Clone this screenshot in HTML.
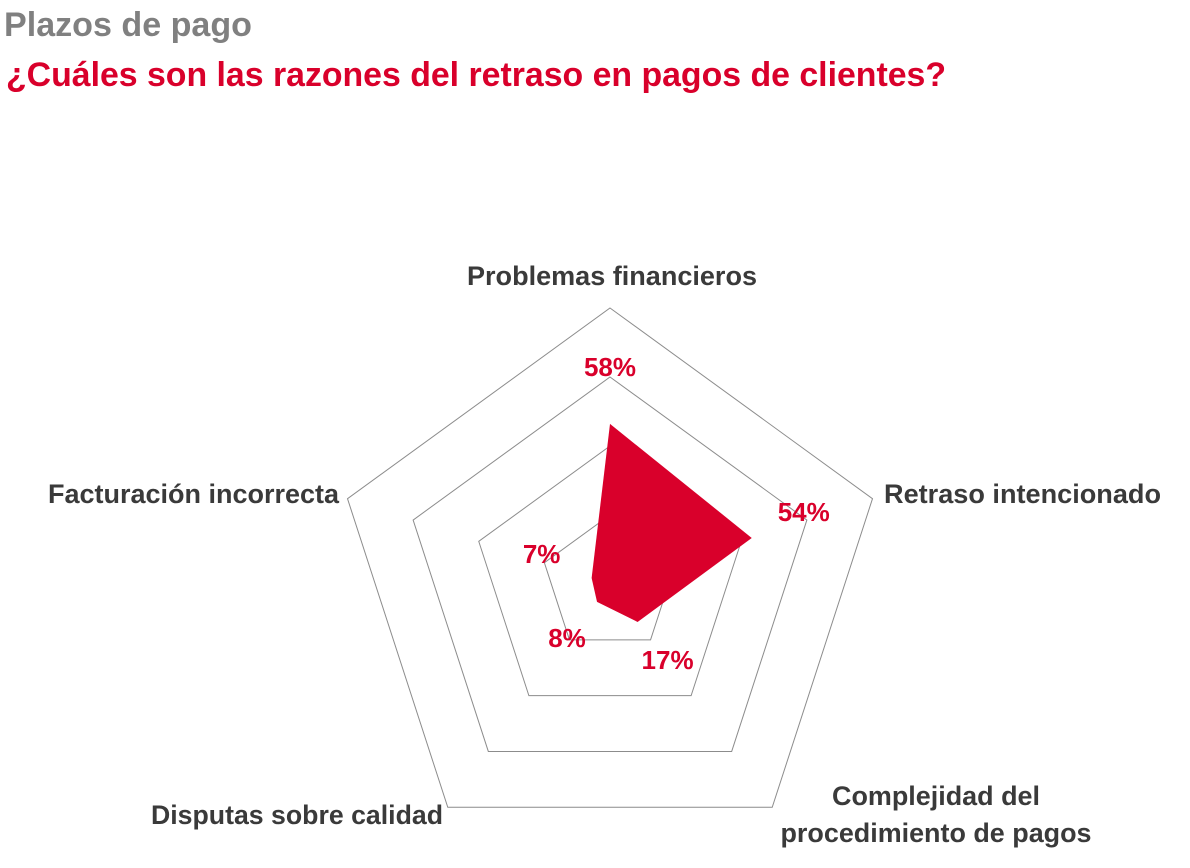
<!DOCTYPE html>
<html><head><meta charset="utf-8"><style>
html,body{margin:0;padding:0;background:#fff;}
svg{display:block;font-family:"Liberation Sans",sans-serif;font-weight:bold;}
</style></head><body>
<svg id="chart" width="1190" height="868" viewBox="0 0 1190 868">
<text x="4" y="36" font-size="34" fill="#808080" textLength="248" lengthAdjust="spacingAndGlyphs">Plazos de pago</text>
<text x="6" y="86" font-size="34" fill="#d9002b" textLength="940" lengthAdjust="spacingAndGlyphs">¿Cuáles son las razones del retraso en pagos de clientes?</text>
<g id="grid"></g>
<g id="series"></g>
<g id="labels">
<text x="612" y="285" font-size="27" fill="#3a3a3a" text-anchor="middle" textLength="290" lengthAdjust="spacingAndGlyphs">Problemas financieros</text>
<text x="884" y="503" font-size="27" fill="#3a3a3a" textLength="277" lengthAdjust="spacingAndGlyphs">Retraso intencionado</text>
<text x="48" y="503" font-size="27" fill="#3a3a3a" textLength="291" lengthAdjust="spacingAndGlyphs">Facturación incorrecta</text>
<text x="151" y="824" font-size="27" fill="#3a3a3a" textLength="292" lengthAdjust="spacingAndGlyphs">Disputas sobre calidad</text>
<text x="936" y="805" font-size="27" fill="#3a3a3a" text-anchor="middle" textLength="208" lengthAdjust="spacingAndGlyphs">Complejidad del</text>
<text x="936" y="842" font-size="27" fill="#3a3a3a" text-anchor="middle" textLength="311" lengthAdjust="spacingAndGlyphs">procedimiento de pagos</text>
</g>
</svg>
<script>
const categories = ["Problemas financieros","Retraso intencionado","Complejidad del procedimiento de pagos","Disputas sobre calidad","Facturación incorrecta"];
const values = [58,54,17,8,7];
const valueLabels = ["58%","54%","17%","8%","7%"];
const ringLevels = [25,50,75,100];
const NS="http://www.w3.org/2000/svg";
const cx=610, cy=584, R=276, maxV=100;
function pt(i,v){const a=i*2*Math.PI/5; const r=v/maxV*R; return [cx+r*Math.sin(a), cy-r*Math.cos(a)];}
const grid=document.getElementById('grid');
ringLevels.forEach(l=>{
  const p=document.createElementNS(NS,'polygon');
  p.setAttribute('points',categories.map((c,i)=>pt(i,l).join(',')).join(' '));
  p.setAttribute('fill','none');p.setAttribute('stroke','#8c8c8c');p.setAttribute('stroke-width','1');
  
  
  grid.appendChild(p);
});
const s=document.getElementById('series');
const poly=document.createElementNS(NS,'polygon');
poly.setAttribute('points',values.map((v,i)=>pt(i,v).join(',')).join(' '));
poly.setAttribute('fill','#d9002b');


s.appendChild(poly);
const offs=[[0,-48],[52,-17],[30,47],[-30,45],[-50,-15]];
values.forEach((v,i)=>{
  const [x,y]=pt(i,v);
  const t=document.createElementNS(NS,'text');
  t.setAttribute('x',x+offs[i][0]);t.setAttribute('y',y+offs[i][1]);
  t.setAttribute('font-size','26');t.setAttribute('fill','#d9002b');t.setAttribute('text-anchor','middle');
  t.textContent=valueLabels[i];
  
  
  s.appendChild(t);
});
</script>
</body></html>
